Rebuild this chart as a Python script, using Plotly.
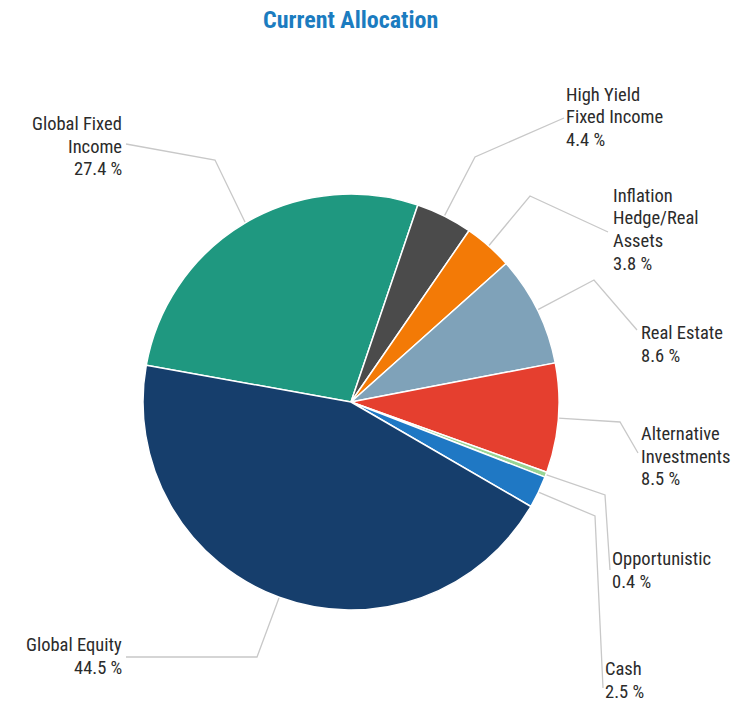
import math
import plotly.graph_objects as go

# ---- data ----
categories = ["Global Fixed Income", "High Yield Fixed Income", "Inflation Hedge/Real Assets",
              "Real Estate", "Alternative Investments", "Opportunistic", "Cash", "Global Equity"]
label_lines = [["Global Fixed", "Income"], ["High Yield", "Fixed Income"], ["Inflation", "Hedge/Real", "Assets"],
               ["Real Estate"], ["Alternative", "Investments"], ["Opportunistic"], ["Cash"], ["Global Equity"]]
values = [27.4, 4.4, 3.8, 8.6, 8.5, 0.4, 2.5, 44.5]
colors = ["#1f9880", "#4b4b4b", "#f37a06", "#7fa2b9", "#e53f2f", "#98d494", "#1f78c4", "#163e6c"]

# ---- layout constants (pixels) ----
W, H = 749, 704
CX, CY, R = 351, 402, 208
START = 280.2  # degrees clockwise from 12 o'clock where first slice starts

# elbow point of leader line and end point for each label (pixel coords)
elbows = [(215, 160), (475, 157), (530, 196), (594, 280), (620, 422), (605, 495), (595, 516), (257, 657)]
ends = [(126, 144), (564, 118), (608, 232), (637, 330), (638, 453), (610, 570), (603, 688), (126, 657)]
# x, centre of first text line, alignment
text_pos = [(123, 124, "right"), (565, 95, "left"), (612, 196, "left"), (640, 333, "left"),
            (640, 434, "left"), (611, 559, "left"), (604, 669, "left"), (123, 645, "right")]
LINE = 22.5

FONT = "Liberation Sans Narrow, Arial Narrow, Roboto Condensed, Liberation Sans, Arial, sans-serif"


def px(x, y):
    return x / W, 1 - y / H


fig = go.Figure(go.Pie(
    labels=categories, values=values, sort=False, direction="clockwise", rotation=START,
    marker=dict(colors=colors, line=dict(color="white", width=1.5)),
    textinfo="none", hoverinfo="label+percent", showlegend=False,
    domain=dict(x=[(CX - R) / W, (CX + R) / W], y=[(H - CY - R) / H, (H - CY + R) / H]),
))

total = sum(values)
cum = 0.0
shapes = []
annotations = []
for i, v in enumerate(values):
    mid = START + (cum + v / 2) / total * 360
    cum += v
    a = math.radians(mid)
    sx, sy = CX + R * math.sin(a), CY - R * math.cos(a)
    ex, ey = elbows[i]
    fx, fy = ends[i]
    pts = [px(sx, sy), px(ex, ey), px(fx, fy)]
    path = "M {} {} L {} {} L {} {}".format(pts[0][0], pts[0][1], pts[1][0], pts[1][1], pts[2][0], pts[2][1])
    shapes.append(dict(type="path", xref="paper", yref="paper", path=path,
                       line=dict(color="#c8c8c8", width=1.3), layer="below"))
    tx, ty, al = text_pos[i]
    lines = label_lines[i] + ["{:.1f} %".format(v)]
    for j, t in enumerate(lines):
        x, y = px(tx, ty + j * LINE)
        annotations.append(dict(
            x=x, y=y, xref="paper", yref="paper", xanchor=al, yanchor="middle", align=al,
            text=t, showarrow=False, borderpad=0,
            font=dict(family=FONT, size=18.5, color="#2b2b2b")))

annotations.append(dict(x=px(350, 20)[0], y=px(350, 20)[1], xref="paper", yref="paper",
                        xanchor="center", yanchor="middle", showarrow=False,
                        text="<b>Current Allocation</b>",
                        font=dict(family=FONT, size=24, color="#1b7cc0")))

fig.update_layout(width=W, height=H, margin=dict(l=0, r=0, t=0, b=0),
                  paper_bgcolor="white", plot_bgcolor="white",
                  shapes=shapes, annotations=annotations)
fig.write_html("out.html", config={"displayModeBar": False},
               post_script="document.body.style.margin='0';")
